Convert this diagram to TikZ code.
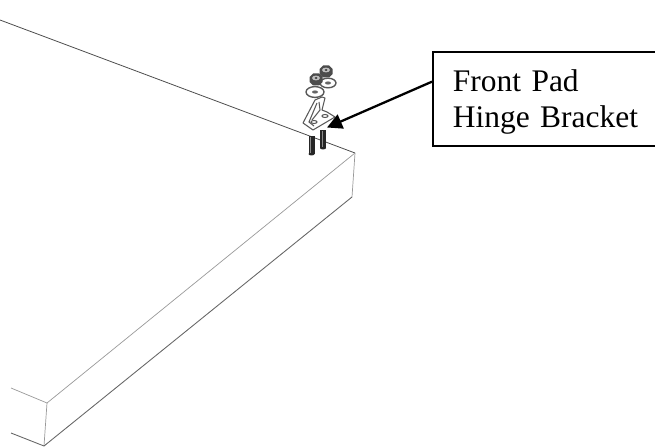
\documentclass[tikz,border=0pt]{standalone}
\usepackage{fontspec}
\setmainfont{Liberation Serif}
\usetikzlibrary{arrows.meta}
\tikzset{
	padtop/.style={line width=.45pt,color=black!70},
	padfront/.style={line width=.4pt,color=black!40},
	padlow/.style={line width=.5pt,color=black!60},
	bracketline/.style={line width=.6pt,color=black!65,fill=white},
	calloutbox/.style={draw,line width=1pt,anchor=west,inner xsep=4mm,inner ysep=0pt,text width=41mm,minimum height=18.8mm,align=left,font=\fontsize{17.9}{20.8}\selectfont},
	calloutarrow/.style={line width=1.3pt,-{Triangle[length=3mm,width=3mm]}}
}
\begin{document}
\begin{tikzpicture}[x=.2mm,y=-.2mm]
		\useasboundingbox (0,0) rectangle (655,447);
		%Pad edges
		\draw [padtop] (0,20)--(355,153);
		\draw [padfront] (355,153)--(47,403);
		\draw [padfront] (355,153)--(352,197);
		\draw [padfront] (11,388)--(47,403)--(44,446);
		\draw [padlow] (11,433)--(44,446)--(352,197);
		%Bolts
		\foreach \x/\y in {308.5/136,320/130}{
			\fill [black!85] (\x,\y) rectangle (\x+6,\y+18);
			\fill [black!85] (\x+3,\y+18) ellipse (3 and 1.5);
			\draw [black!45,line width=.6pt] (\x+2.2,\y+1)--(\x+2.2,\y+17);
		}
		%Bracket
		\draw [bracketline,line join=round] (322,97)--(315,100)--(303,123)--(313,130)--(335,117)--(327,112)--(322,110)--(325,98)--cycle;
		\draw [bracketline] (317,103)--(309,122)--(314,126);
		\draw [bracketline] (319,102)--(320,110)--(312,120);
		\draw [bracketline] (314,122) ellipse (3 and 1.5);
		\draw [bracketline] (325,116) ellipse (3 and 1.5);
		%Washers
		\foreach \x/\y/\r in {328/83/8,315/92/9}{
			\draw [bracketline,line width=.8pt] (\x,\y) ellipse (\r cm*.02 and \r cm*.012);
			\fill [black!60] (\x,\y) ellipse (3 and 1.6);
		}
		%Nuts
		\foreach \x/\y in {326/72,316/80}{
			\fill [black!70] (\x-6.5,\y-3)--(\x-3,\y-6.5)--(\x+3,\y-6.5)--(\x+6.5,\y-3)--(\x+6.5,\y+2)--(\x+3,\y+5.5)--(\x-3,\y+5.5)--(\x-6.5,\y+2)--cycle;
			\fill [black!25] (\x,\y-2) ellipse (4 and 2.4);
			\fill [black!80] (\x,\y-2) ellipse (1.5 and 1);
		}
		%Callout
		\node [calloutbox] (hingelabel) at (432,99) {\rule{0pt}{5.5mm}Front Pad\\Hinge Bracket};
		\coordinate (bracketpoint) at (327,127.5);
		\draw [calloutarrow] (hingelabel.172.5)--(bracketpoint);
	\end{tikzpicture}
\end{document}
